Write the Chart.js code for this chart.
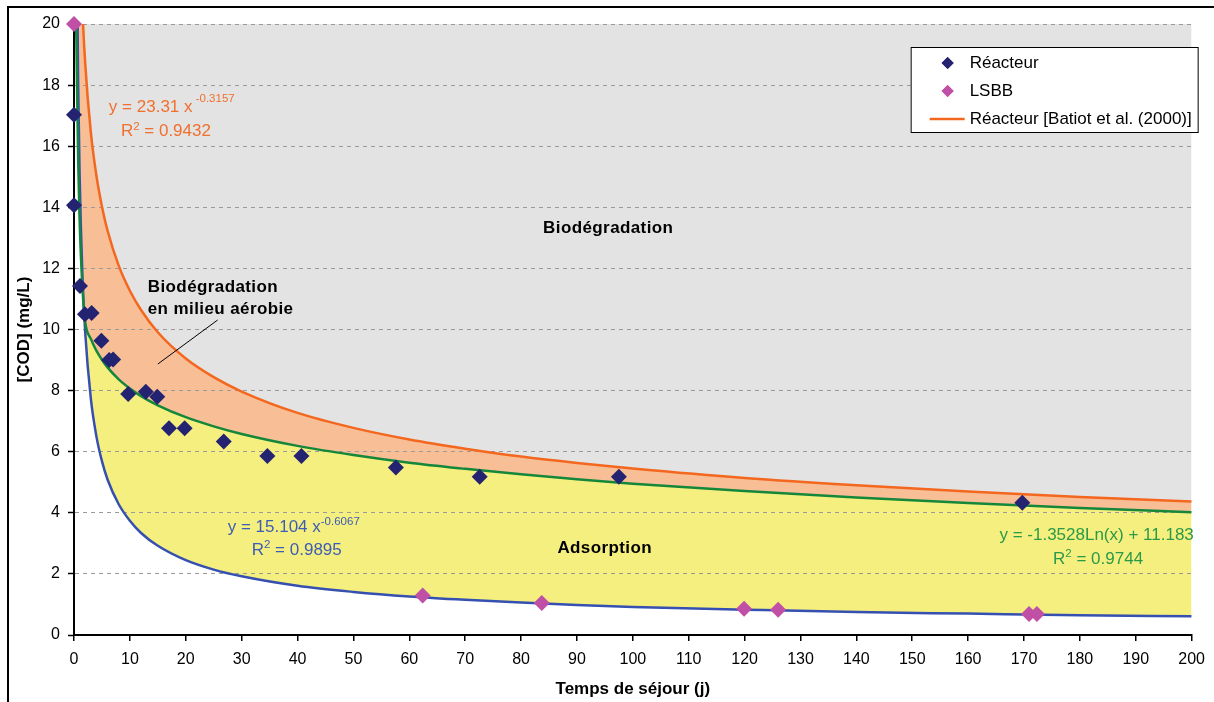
<!DOCTYPE html>
<html><head><meta charset="utf-8">
<script src="https://cdn.jsdelivr.net/npm/chart.js@4.4.1/dist/chart.umd.min.js"></script>
<style>
html,body{margin:0;padding:0;background:#fff;}
#wrap{position:relative;width:1214px;height:702px;overflow:hidden;}
#frame{position:absolute;left:7px;top:6px;width:1300px;height:800px;border-left:2px solid #000;border-top:2px solid #000;pointer-events:none;}
canvas{position:absolute;left:0;top:0;}
</style></head><body>
<div id="wrap"><canvas id="c" width="1214" height="702"></canvas><div id="frame"></div></div>
<script>
const curveX  = [0.3,0.5,0.75,1,1.5,2,3,4,5,6,8,10,12,15,20,25,30,40,50,60,70,80,90,100,120,140,160,180,200];
const batiotY = [34.1,29.0,25.53,23.31,20.51,18.73,16.48,15.05,14.03,13.24,12.09,11.27,10.64,9.91,9.05,8.44,7.97,7.27,6.78,6.40,6.10,5.84,5.63,5.45,5.14,4.90,4.70,4.52,4.37];
const logFitY = [21.0,18.5,15.5,13.6,11.4,10.25,9.70,9.31,9.01,8.76,8.37,8.07,7.82,7.52,7.13,6.83,6.58,6.19,5.89,5.64,5.44,5.26,5.10,4.95,4.71,4.50,4.32,4.16,4.02];
const powFitY = [31.4,23.0,17.98,15.10,11.81,9.92,7.76,6.51,5.69,5.09,4.28,3.74,3.34,2.92,2.45,2.14,1.92,1.61,1.41,1.26,1.15,1.06,0.98,0.92,0.83,0.75,0.70,0.65,0.61];
// Measured points
const reacteurX = [0,0,1.07,1.96,3.15,4.9,6.3,7.0,9.7,12.85,14.9,17.0,19.8,26.8,34.6,40.7,57.6,72.6,97.5,169.7];
const reacteurY = [17.03,14.07,11.42,10.5,10.54,9.63,9.0,9.02,7.89,7.96,7.8,6.77,6.77,6.33,5.86,5.86,5.48,5.18,5.18,4.33];
const lsbbX = [0,62.4,83.7,119.9,126,170.9,172.3];
const lsbbY = [20,1.29,1.05,0.86,0.83,0.69,0.69];
// Axis settings
const xMin = 0, xMax = 200, xStep = 10;
const yMin = 0, yMax = 20, yStep = 2;

const FONT = "'Liberation Sans', Arial, sans-serif";
Chart.defaults.font.family = FONT;
const C = {
  gray:'#E3E3E3', peach:'#F8BE96', yellow:'#F5EF7F',
  orange:'#F4671F', green:'#15873A', blue:'#3550B0',
  navy:'#232371', magenta:'#C04FA6',
  tOrange:'#F0702E', tGreen:'#2A9A48', tBlue:'#3C5DB5'
};
const pts = (xs, ys) => xs.map((x,i)=>({x, y: ys[i]}));

function drawParts(ctx, x, y, parts, color, size, supSize, raise){
  ctx.fillStyle = color; ctx.textBaseline = 'middle'; ctx.textAlign = 'left';
  let cx = x;
  for (const [t, sup] of parts){
    ctx.font = (sup ? supSize : size) + 'px ' + FONT;
    ctx.fillText(t, cx, sup ? y - raise : y);
    cx += ctx.measureText(t).width;
  }
}
function boldText(ctx, t, x, y, align){
  ctx.font = 'bold 17px ' + FONT;
  ctx.fillStyle = '#000'; ctx.textBaseline='middle'; ctx.textAlign = align || 'left';
  try { ctx.letterSpacing = '0.4px'; } catch(e){}
  ctx.fillText(t, x, y);
  try { ctx.letterSpacing = '0px'; } catch(e){}
}

const overlay = {
  id:'overlay',
  afterDraw(chart){
    const {ctx, chartArea, scales:{x, y}} = chart;
    const px = v => x.getPixelForValue(v), py = v => y.getPixelForValue(v);
    ctx.save();
    ctx.strokeStyle = '#000'; ctx.lineWidth = 1;
    ctx.beginPath(); ctx.moveTo(px(25.7), py(10.31)); ctx.lineTo(px(15.0), py(8.87)); ctx.stroke();
    boldText(ctx, 'Biodégradation', px(95.6), py(13.32), 'center');
    boldText(ctx, 'Biodégradation', px(13.2), py(11.39));
    boldText(ctx, 'en milieu aérobie', px(13.2), py(10.67));
    boldText(ctx, 'Adsorption', px(86.5), py(2.85));
    drawParts(ctx, px(6.24), py(17.28), [['y = 23.31 x'],[' -0.3157',1]], C.tOrange, 17, 11.5, 8);
    drawParts(ctx, px(8.39), py(16.5), [['R'],['2',1],[' = 0.9432']], C.tOrange, 17, 11.5, 4);
    drawParts(ctx, px(27.5), py(3.54), [['y = 15.104 x'],['-0.6067',1]], C.tBlue, 17, 11.5, 5);
    drawParts(ctx, px(31.8), py(2.78), [['R'],['2',1],[' = 0.9895']], C.tBlue, 17, 11.5, 5);
    drawParts(ctx, px(165.6), py(3.27), [['y = -1.3528Ln(x) + 11.183']], C.tGreen, 17, 11.5, 5);
    drawParts(ctx, px(175.2), py(2.49), [['R'],['2',1],[' = 0.9744']], C.tGreen, 17, 11.5, 5);
    const lx = chartArea.right - 281, ly = chartArea.top + 23, lw = 287, lh = 85;
    ctx.fillStyle = '#fff'; ctx.fillRect(lx, ly, lw, lh);
    ctx.strokeStyle = '#000'; ctx.lineWidth = 1; ctx.strokeRect(lx+0.5, ly+0.5, lw, lh);
    const items = [
      {t:'Réacteur', kind:'pt', c:C.navy},
      {t:'LSBB', kind:'pt', c:C.magenta},
      {t:'Réacteur [Batiot et al. (2000)]', kind:'line', c:C.orange}
    ];
    items.forEach((it, i) => {
      const cy = ly + 16 + i*28;
      if (it.kind === 'pt') {
        ctx.fillStyle = it.c; ctx.strokeStyle = it.c;
        Chart.helpers.drawPoint(ctx, {pointStyle:'rectRot', radius:6, borderWidth:0}, lx+37, cy);
        ctx.fill();
      } else {
        ctx.strokeStyle = it.c; ctx.lineWidth = 2.5;
        ctx.beginPath(); ctx.moveTo(lx+19, cy); ctx.lineTo(lx+54, cy); ctx.stroke();
      }
      ctx.fillStyle = '#000'; ctx.font = '17px ' + FONT; ctx.textBaseline='middle'; ctx.textAlign='left';
      ctx.fillText(it.t, lx+59, cy);
    });
    ctx.restore();
  }
};

new Chart(document.getElementById('c'), {
  data: {
    datasets: [
      {type:'scatter', label:'Réacteur', data: pts(reacteurX, reacteurY), pointStyle:'rectRot', pointRadius:8, pointHoverRadius:8,
        backgroundColor:C.navy, borderColor:C.navy, borderWidth:0, clip:false},
      {type:'scatter', label:'LSBB', data: pts(lsbbX, lsbbY), pointStyle:'rectRot', pointRadius:8, pointHoverRadius:8,
        backgroundColor:C.magenta, borderColor:C.magenta, borderWidth:0, clip:false},
      {type:'line', label:'Réacteur [Batiot et al. (2000)]', data: pts(curveX, batiotY), borderColor:C.orange, borderWidth:2.5,
        pointRadius:0, cubicInterpolationMode:'monotone', backgroundColor:C.gray, fill:'end'},
      {type:'line', label:'log trend', data: pts(curveX, logFitY), borderColor:C.green, borderWidth:2.5,
        pointRadius:0, cubicInterpolationMode:'monotone', backgroundColor:C.peach, fill:2},
      {type:'line', label:'power trend', data: pts(curveX, powFitY), borderColor:C.blue, borderWidth:2.5,
        pointRadius:0, cubicInterpolationMode:'monotone', backgroundColor:C.yellow, fill:3}
    ]
  },
  options: {
    responsive:false, animation:false, devicePixelRatio:1,
    layout:{padding:{left:0, top:24, right:19, bottom:0}},
    plugins:{ legend:{display:false}, tooltip:{enabled:false}, filler:{drawTime:'beforeDraw', propagate:false} },
    scales:{
      x:{type:'linear', min:xMin, max:xMax,
        ticks:{stepSize:xStep, color:'#000', font:{size:16}, padding:9, maxRotation:0, autoSkip:false},
        grid:{display:true, drawOnChartArea:false, drawTicks:true, tickLength:6, color:'#000', tickColor:'#000', lineWidth:1.5},
        border:{display:true, color:'#000', width:2},
        title:{display:true, text:'Temps de séjour (j)', color:'#000', font:{size:17, weight:'bold'}, padding:{top:0, bottom:2}},
        afterFit(s){ s.height = 67; }
      },
      y:{type:'linear', min:yMin, max:yMax,
        ticks:{stepSize:yStep, color:'#000', font:{size:16}, padding:8},
        grid:{color: c => (c.tick && c.tick.value === 0) ? 'rgba(0,0,0,0)' : '#9a9a9a', lineWidth:1,
              tickColor:'#000', tickLength:6, tickBorderDash:[], tickWidth:1.5},
        border:{display:true, color:'#000', width:2, dash:[4,4]},
        title:{display:true, text:'[COD] (mg/L)', color:'#000', font:{size:17, weight:'bold'}, padding:{top:14, bottom:0}},
        afterFit(s){ s.width = 74; }
      }
    }
  },
  plugins:[overlay]
});
</script>
</body></html>
